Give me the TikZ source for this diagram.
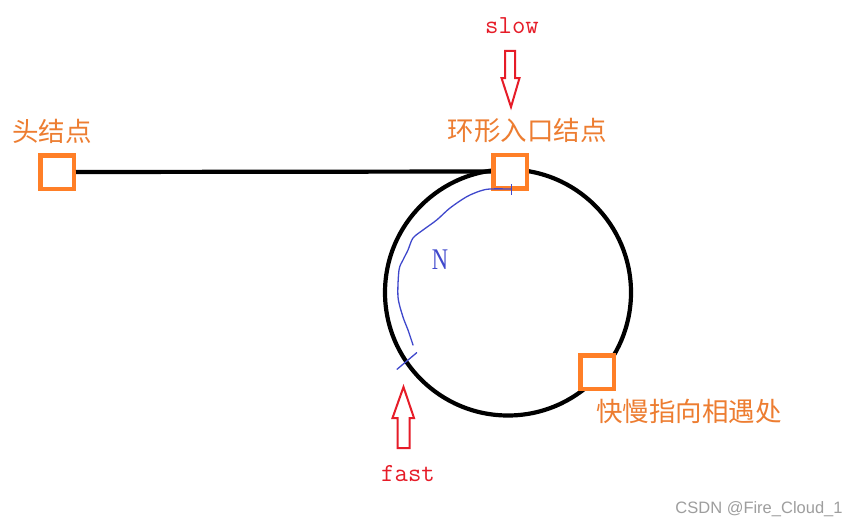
\documentclass[tikz,border=0pt]{standalone}
\usepackage{fontspec}
\newfontfamily\cjk{Noto Sans CJK SC}
\newfontfamily\serifN{Liberation Serif}
\newfontfamily\wmfont{Liberation Sans}
\usetikzlibrary{calc}
\definecolor{boxorange}{RGB}{255,127,39}
\definecolor{txtorange}{RGB}{237,125,49}
\definecolor{paintred}{RGB}{230,28,40}
\definecolor{paintblue}{RGB}{63,72,204}
\tikzset{
  nodebox/.style={draw=boxorange, line width=4.5pt, fill=white, minimum size=33.5pt, inner sep=0pt},
  cnlabel/.style={text=txtorange, font=\cjk\fontsize{26.5}{26.5}\selectfont, inner sep=0pt},
  ptrlabel/.style={text=paintred, font=\ttfamily\fontsize{26}{26}\selectfont, inner sep=0pt},
  hollowarrow/.style={draw=paintred, line width=2pt, line join=miter},
  link/.style={line width=4.2pt, draw=black}
}
\begin{document}
\begin{tikzpicture}[x=1pt,y=-1pt]
\useasboundingbox (0,0) rectangle (858,527);
\fill[white] (0,0) rectangle (858,527);
% ring
\node[circle, draw=black, line width=4.2pt, minimum size=246pt, inner sep=0pt] (ring) at (508,292.5) {};
% nodes
\node[nodebox] (head) at (57,172) {};
\node[nodebox] (entry) at (510,171.5) {};
\node[nodebox] (meet) at (597,372) {};
\draw[link] (head.east) -- (entry.west);
\node[nodebox] at (entry) {};
% labels
\node[cnlabel] (headlbl) at (52,131) {头结点};
\node[cnlabel] (entrylbl) at (527,130) {环形入口结点};
\node[cnlabel] (meetlbl) at (689,411) {快慢指向相遇处};
\node[ptrlabel] (slowlbl) at (512,26) {slow};
\node[ptrlabel] (fastlbl) at (408,474) {fast};
% slow arrow (hollow, pointing down)
\draw[hollowarrow] (505,51) -- (515,51) -- (515,78) -- (519.5,78) -- (511,107) -- (501.5,78) -- (505,78) -- cycle;
% fast arrow (hollow, pointing up)
\draw[hollowarrow] (397.5,448) -- (409.5,448) -- (409.5,418) -- (414,418) -- (403.5,387) -- (392.5,418) -- (397.5,418) -- cycle;
% blue hand-drawn path
\draw[paintblue, line width=1.3pt, line join=round, line cap=round] plot[smooth, tension=0.5] coordinates {
 (511.7,189) (490,189) (480,191) (466.7,196.7) (450,208) (436.7,220) (423,230) (413,238) (408,250) (403,260) (399,270) (398,297) (403,317) (408,330) (413,345)};
\draw[paintblue, line width=1.3pt] (511.7,184) -- (511.7,195);
\draw[paintblue, line width=1.3pt, line cap=round] (416.7,352.7) -- (397,369.3);
\node[text=paintblue, font=\serifN\fontsize{30}{30}\selectfont, xscale=0.75, inner sep=0pt] (nlbl) at (440,260) {N};
% watermark
\node[text=black!38, font=\wmfont\fontsize{16.5}{16.5}\selectfont, inner sep=0pt] (wm) at (759,509) {CSDN @Fire\_Cloud\_1};
\end{tikzpicture}
\end{document}
